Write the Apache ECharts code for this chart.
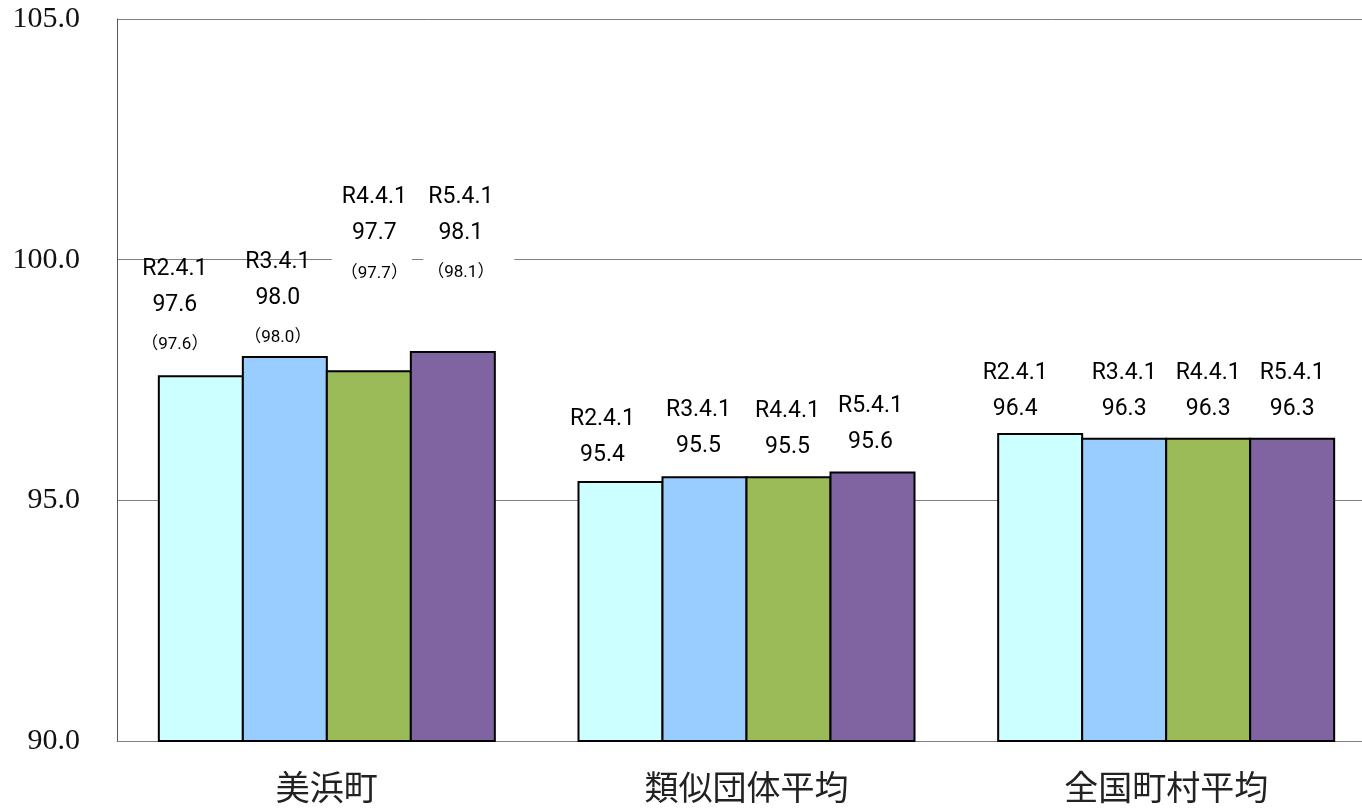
<!DOCTYPE html>
<html>
<head>
<meta charset="utf-8">
<script src="https://cdn.jsdelivr.net/npm/echarts@6/dist/echarts.min.js"></script>
<style>
html,body{margin:0;padding:0;background:#fff;overflow:hidden;}
#chart{width:1362px;height:808px;}
</style>
</head>
<body>
<div id="chart"></div>
<script>
// ---- data ----
const categories = ['美浜町', '類似団体平均', '全国町村平均'];
const seriesNames = ['R2.4.1', 'R3.4.1', 'R4.4.1', 'R5.4.1'];
const r2Values = [97.6, 95.4, 96.4];
const r3Values = [98.0, 95.5, 96.3];
const r4Values = [97.7, 95.5, 96.3];
const r5Values = [98.1, 95.6, 96.3];
const mihamaBracket = [97.6, 98.0, 97.7, 98.1];
const yMin = 90, yMax = 105, yInterval = 5;

const seriesValues = [r2Values, r3Values, r4Values, r5Values];
const colors = ['#CCFFFF', '#99CCFF', '#9BBB59', '#8064A2'];

// label placement tweaks [series][category] -> [dx, dy]
const labelOffsets = [
  [[-26, 0], [-18, 0], [-25, 2]],
  [[-7, 12], [-6, -4], [0, -3]],
  [[3, -65], [-1, -3], [0, -3]],
  [[16, -46], [-2, -3], [0, -3]]
];
const labelPads = {
  '2-0': [2, 4, 2, 9],
  '3-0': [2, 20, 2, 4]
};

const labelFont = 'Roboto, "Noto Sans CJK JP", sans-serif';

const series = seriesNames.map((name, si) => ({
  name: name,
  type: 'bar',
  barWidth: 86,
  barGap: '-2.3256%',
  itemStyle: { color: colors[si], borderColor: '#000', borderWidth: 2 },
  data: seriesValues[si].map((v, ci) => {
    const lbl = { offset: labelOffsets[si][ci] };
    const key = si + '-' + ci;
    if (labelPads[key]) {
      lbl.backgroundColor = '#fff';
      lbl.padding = labelPads[key];
    }
    return { value: v, label: lbl };
  }),
  label: {
    show: true,
    position: 'top',
    distance: 8,
    align: 'center',
    formatter: function (p) {
      let s = '{a|' + p.seriesName + '}\n{a|' + p.value.toFixed(1) + '}';
      if (p.dataIndex === 0) {
        s += '\n{b|（' + mihamaBracket[p.seriesIndex].toFixed(1) + '）}';
      }
      return s;
    },
    rich: {
      a: { fontSize: 23, lineHeight: 36, color: '#000', fontFamily: labelFont, align: 'center' },
      b: { fontSize: 17, lineHeight: 44, color: '#000', fontFamily: labelFont, align: 'center' }
    }
  }
}));

const chart = echarts.init(document.getElementById('chart'));
chart.setOption({
  animation: false,
  backgroundColor: '#fff',
  grid: { left: 117, top: 19, height: 722, width: 1259, containLabel: false, outerBoundsMode: 'none' },
  xAxis: {
    type: 'category',
    data: categories,
    axisTick: { show: false },
    axisLine: { show: true, lineStyle: { color: '#808080', width: 1 } },
    axisLabel: { fontSize: 34, margin: 29, color: '#222', fontFamily: '"Noto Sans CJK JP", sans-serif' }
  },
  yAxis: {
    type: 'value',
    min: yMin, max: yMax, interval: yInterval,
    axisLine: { show: true, lineStyle: { color: '#555', width: 1 } },
    axisTick: { show: false },
    splitLine: { show: true, lineStyle: { color: '#808080', width: 1 } },
    axisLabel: {
      formatter: v => v.toFixed(1),
      fontSize: 30, margin: 37, color: '#111',
      fontFamily: '"Liberation Serif", serif'
    }
  },
  series: series
});
</script>
</body>
</html>
